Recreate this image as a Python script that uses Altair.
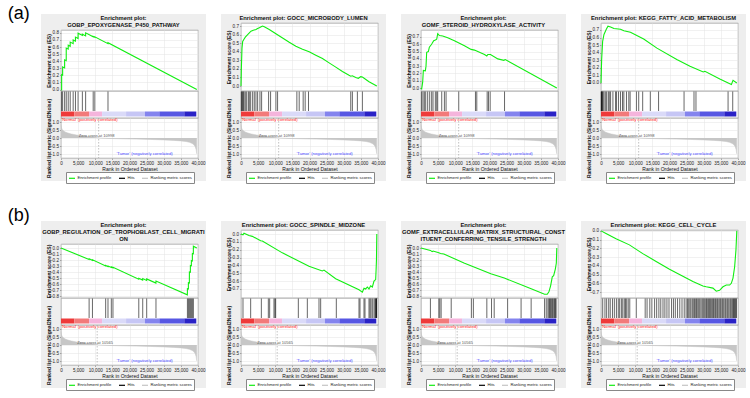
import altair as alt
import pandas as pd

FONT = "Liberation Sans"

# ---------------- texts ----------------
ROW_LABELS = ["(a)", "(b)"]
TITLES = [
    ["Enrichment plot:", "GOBP_EPOXYGENASE_P450_PATHWAY"],
    ["Enrichment plot: GOCC_MICROBODY_LUMEN"],
    ["Enrichment plot:", "GOMF_STEROID_HYDROXYLASE_ACTIVITY"],
    ["Enrichment plot: KEGG_FATTY_ACID_METABOLISM"],
    ["Enrichment plot:", "GOBP_REGULATION_OF_TROPHOBLAST_CELL_MIGRATI", "ON"],
    ["Enrichment plot: GOCC_SPINDLE_MIDZONE"],
    ["Enrichment plot:", "GOMF_EXTRACELLULAR_MATRIX_STRUCTURAL_CONST",
     "ITUENT_CONFERRING_TENSILE_STRENGTH"],
    ["Enrichment plot: KEGG_CELL_CYCLE"],
]
ES_TITLE = "Enrichment score (ES)"
METRIC_TITLE = "Ranked list metric (Signal2Noise)"
X_TITLE = "Rank in Ordered Dataset"
POS_TEXT = "'Normal' (positively correlated)"
NEG_TEXT = "'Tumor' (negatively correlated)"
ZERO_CROSS = [10998, 10565]
LEG_NAMES = ["Enrichment profile", "Hits", "Ranking metric scores"]
LEG_COLORS = ["#11ee11", "#000000", "#c4c4c4"]

X_TICKS = [0, 5000, 10000, 15000, 20000, 25000, 30000, 35000, 40000]
MET_TICKS = [1.0, 0.5, 0.0, -0.5, -1.0]

# ---------------- running enrichment score per panel ----------------
a1_rank = [0, 189, 190, 479, 480, 1059, 1060, 1529, 1530, 2109, 2110, 2689, 2690, 3549, 3550,
           4219, 4220, 4989, 4990, 6239, 6240, 7189, 7190, 9399, 9400, 9879, 9880, 13719, 13720, 39650]
a1_es = [0, -0.005, 0.21, 0.203, 0.32, 0.306, 0.42, 0.408, 0.585, 0.57, 0.625, 0.61, 0.67, 0.648, 0.70,
         0.683, 0.74, 0.72, 0.795, 0.764, 0.78, 0.757, 0.80, 0.745, 0.75, 0.738, 0.744, 0.648, 0.66, 0.0]

a2_rank = [0, 100, 290, 490, 780, 1260, 1940, 2430, 2910, 3590, 4370, 4850, 5340, 6020, 6310, 6800,
           8250, 10190, 12140, 14080, 16020, 17960, 19900, 21840, 23790, 25730, 27670, 29610, 31550,
           32040, 32520, 33500, 34270, 34950, 35440, 37380, 39650]
a2_es = [0, 0.2, 0.44, 0.52, 0.54, 0.57, 0.6, 0.62, 0.64, 0.65, 0.66, 0.67, 0.68, 0.695, 0.7, 0.69,
         0.66, 0.61, 0.56, 0.51, 0.465, 0.43, 0.4, 0.36, 0.32, 0.27, 0.22, 0.17, 0.125,
         0.115, 0.12, 0.1, 0.09, 0.11, 0.105, 0.05, 0.0]

a3_rank = [0, 200, 490, 680, 1270, 1460, 1660, 2150, 2440, 2930, 3220, 3710, 4200, 4590, 4880, 5370,
           6340, 7800, 9760, 12680, 14630, 15610, 18540, 19220, 19510, 20290, 22440, 24200, 24590, 39650]
a3_es = [0, -0.01, 0.08, 0.24, 0.235, 0.30, 0.49, 0.50, 0.56, 0.59, 0.61, 0.65, 0.66, 0.67, 0.745, 0.72,
         0.714, 0.69, 0.65, 0.58, 0.53, 0.52, 0.46, 0.44, 0.46, 0.46, 0.40, 0.38, 0.39, 0.0]

a4_rank = [0, 190, 480, 870, 1160, 1550, 2030, 2800, 3770, 5700, 6670, 8600, 12460, 16330, 22130,
           25990, 29850, 30340, 34690, 38070, 38550, 39650]
a4_es = [0, 0.31, 0.55, 0.64, 0.67, 0.71, 0.75, 0.74, 0.72, 0.71, 0.69, 0.67, 0.58, 0.46, 0.31,
         0.22, 0.146, 0.155, 0.053, -0.02, 0.035, 0.0]

b1_rank = [0, 8200, 8220, 9180, 9200, 13040, 13060, 13720, 13740, 14690, 14710, 15170, 15190, 22690,
           22710, 23840, 23860, 25000, 25020, 27710, 27730, 36890, 36910, 37190, 37200, 37480, 37490,
           37770, 37780, 38060, 38070, 38350, 38360, 38640, 38650, 39650]
b1_es = [0, -0.19, -0.18, -0.205, -0.195, -0.30, -0.29, -0.31, -0.30, -0.325, -0.315, -0.33, -0.32, -0.52,
         -0.505, -0.535, -0.51, -0.54, -0.515, -0.585, -0.55, -0.78, -0.68, -0.685, -0.58, -0.585, -0.40,
         -0.405, -0.29, -0.295, -0.21, -0.215, -0.09, -0.095, 0.03, 0.0]

b2_rank = [0, 580, 880, 1850, 2340, 3310, 5740, 6230, 12070, 19850, 23740, 24230, 27640, 34450, 35430,
           35910, 36400, 36890, 37370, 37860, 38350, 38830, 39320, 39450, 39550, 39650]
b2_es = [0, -0.01, 0.01, -0.01, -0.02, -0.03, -0.085, -0.09, -0.24, -0.41, -0.47, -0.46, -0.57, -0.71, -0.74,
         -0.69, -0.70, -0.675, -0.70, -0.66, -0.675, -0.60, -0.58, -0.45, -0.33, 0.0]

b3_rank = [0, 2750, 3240, 3530, 5200, 5690, 6670, 12550, 20390, 24310, 32160, 36080, 36860, 37350,
           37840, 38330, 38730, 39220, 39510, 39650]
b3_es = [0, -0.04, -0.06, -0.05, -0.08, -0.09, -0.10, -0.25, -0.43, -0.50, -0.68, -0.77, -0.77, -0.73,
         -0.63, -0.48, -0.46, -0.35, -0.25, 0.0]

b4_rank = [0, 1460, 4390, 8290, 12200, 16100, 20000, 23900, 26830, 29760, 30730, 32680, 33660, 34630,
           35610, 36590, 37560, 38050, 38540, 39020, 39400, 39650]
b4_es = [0, -0.03, -0.09, -0.16, -0.26, -0.35, -0.44, -0.52, -0.58, -0.63, -0.64, -0.655, -0.69, -0.68,
         -0.64, -0.62, -0.62, -0.60, -0.54, -0.41, -0.22, 0.0]

# ---------------- gene-set hits (rank positions) ----------------
a1_hits = [190, 480, 1060, 1530, 2110, 2690, 3550, 4220, 4990, 6240, 7190, 9400, 9880, 13720]
a2_hits = [100, 290, 490, 680, 900, 1260, 1650, 2140, 2430, 2820, 3400, 3880, 4370, 4850, 5530, 6020,
           8060, 8640, 10190, 10680, 16310, 16990, 18150, 18740, 19710, 32040, 32520, 33980, 35440]
a3_hits = [200, 590, 980, 1370, 1950, 2540, 3120, 3510, 4190, 4590, 4880, 6050, 6830, 7320, 11020,
           15900, 16290, 19320, 19700, 20200, 24390]
a4_hits = [60, 150, 290, 400, 580, 870, 1260, 1640, 2130, 2420, 2800, 3480, 4250, 4540, 5120, 5700,
           6280, 6670, 7440, 8120, 8500, 10340, 11010, 12170, 14400, 16810, 24250, 27150, 27730,
           37100, 38460]
b1_hits = [8210, 9180, 13040, 13720, 14690, 15170, 22710, 23860, 25020, 27730, 36910, 37200, 37490,
           37780, 38070, 38360, 38650]
b2_hits = [580, 2820, 5940, 7980, 8370, 9630, 9930, 10120, 16740, 19370, 22770, 23260, 27830, 34450,
           34740, 35910, 36200, 37370, 37660, 37960, 38350, 38830, 39130, 39320, 39450, 39550, 39610]
b3_hits = [2750, 5200, 5490, 5880, 8820, 14710, 15290, 19220, 20590, 21370, 25290, 29220, 32160, 36080,
           36570, 37060, 37350, 37550, 37840, 38040, 38330, 38530, 38820, 39020, 39250, 39450]
b4_hits = [500, 1150, 1650, 2250, 2700, 3350, 3900, 4500, 5050, 5450, 5950, 6350, 6800, 7150, 7500,
           7950, 8400, 10300, 12900, 13450, 14250, 14850, 15650, 16250, 16900, 17450, 18100, 18650,
           19250, 19850, 20600, 21150, 21700, 22350, 23000, 23650, 24300, 24850, 25250, 25600, 25950,
           26250, 26650, 26950, 27300, 27650, 27900, 28250, 28550, 28850, 29200, 29550, 29850, 30150,
           30450, 30800, 31050, 31400, 31700, 31950, 32300, 32600, 32850, 33200, 33450, 33800, 34050,
           34400, 34700, 34950, 35300, 35550, 35850, 36200, 36450, 36800, 37050, 37350, 37700, 37950,
           38250, 38500, 38700, 38950, 39150, 39350, 39550]

ES_RANKS = [a1_rank, a2_rank, a3_rank, a4_rank, b1_rank, b2_rank, b3_rank, b4_rank]
ES_SCORES = [a1_es, a2_es, a3_es, a4_es, b1_es, b2_es, b3_es, b4_es]
HITS = [a1_hits, a2_hits, a3_hits, a4_hits, b1_hits, b2_hits, b3_hits, b4_hits]

ES_DOMAINS = [[-0.02, 0.84], [-0.058, 0.735], [-0.041, 0.796], [-0.106, 0.792],
              [-0.833, 0.067], [-0.815, 0.051], [-0.833, 0.067], [-0.768, 0.01]]
T8P = [0.0, 0.1, 0.2, 0.3, 0.4, 0.5, 0.6, 0.7, 0.8]
T7P = [0.0, 0.1, 0.2, 0.3, 0.4, 0.5, 0.6, 0.7]
T8N = [0.0, -0.1, -0.2, -0.3, -0.4, -0.5, -0.6, -0.7, -0.8]
T7N = [0.0, -0.1, -0.2, -0.3, -0.4, -0.5, -0.6, -0.7]
ES_TICKS = [T8P, T7P, T7P, T7P, T8N, T7N, T8N, T7N]

# ---------------- ranked list metric ----------------
MET_RANKS = [0, 100, 300, 700, 1200, 2000, 3000, 4500, 6000, 8000, 10000, 11000, 14000, 18000, 22000,
             26000, 30000, 33000, 35000, 36500, 37500, 38300, 38800, 39200, 39450, 39600, 39650]
MET_SCORES = [0.85, 0.68, 0.55, 0.45, 0.38, 0.31, 0.25, 0.19, 0.14, 0.09, 0.04, 0.0, -0.03, -0.05, -0.07,
              -0.09, -0.12, -0.15, -0.18, -0.22, -0.27, -0.34, -0.42, -0.55, -0.72, -0.95, -1.0]

# ---------------- heat bar under the hits ----------------
BAR_START = [0, 3900, 8200, 12000, 19000, 24500, 28700, 36000]
BAR_END = [3900, 8200, 12000, 19000, 24500, 28700, 36000, 39500]
BAR_COLORS = ["#ee3a3a", "#f27a7a", "#f5b4dc", "#dadaf8", "#c6c6f5", "#8484ee", "#5757e3", "#2a22c6"]

# ---------------- layout / style ----------------
W, HH, MH = 137, 27, 40
PANEL_BG = "#eeeeee"
FRAME = "#9a9a9a"
ROW_LABEL_OFFSET = [-9, -4]


def make_panel(k):
    row = k // 4
    lines = TITLES[k]
    n = len(lines)
    TH = 7 * n + 2
    H = 75 - 7 * n
    one = alt.Data(values=[{}])
    xscale = alt.Scale(domain=[0, 40000], nice=False, zero=False)

    # ---- title strip (also paints the grey panel behind everything below) ----
    bg = alt.Chart(one).mark_rect(color=PANEL_BG).encode(
        x=alt.value(-20), x2=alt.value(W + 8),
        y=alt.value(0), y2=alt.value(TH + H + HH + MH + 23))
    cx = (W - 12) / 2
    title_layers = [
        alt.Chart(alt.Data(values=[{"t": txt}])).mark_text(
            align="center", baseline="middle", fontSize=5.8, fontWeight="bold", font=FONT,
            color="#111111").encode(
            x=alt.value(cx), y=alt.value(TH - 5 - 7 * (n - 1 - j)), text="t:N")
        for j, txt in enumerate(lines)
    ]
    title_chart = alt.layer(bg, *title_layers).properties(
        width=W, height=TH, view=alt.ViewBackground(fill="transparent", stroke="transparent"))

    # ---- running enrichment score ----
    es_df = pd.DataFrame({"rank": ES_RANKS[k], "es": ES_SCORES[k]})
    es_df["i"] = range(len(es_df))
    es_chart = alt.Chart(es_df).mark_line(color=LEG_COLORS[0], strokeWidth=1.1).encode(
        x=alt.X("rank:Q", scale=xscale,
                axis=alt.Axis(values=X_TICKS, labels=False, ticks=False, domain=False,
                              title=None, grid=True)),
        y=alt.Y("es:Q", scale=alt.Scale(domain=ES_DOMAINS[k], nice=False, zero=False),
                axis=alt.Axis(values=ES_TICKS[k], format=".1f", title=ES_TITLE, grid=True,
                              minExtent=10, maxExtent=10, titlePadding=0, labelOverlap=False)),
        order=alt.Order("i:Q")).properties(width=W, height=H)

    # ---- hits + heat bar ----
    hits_df = pd.DataFrame({"rank": HITS[k]})
    bar_df = pd.DataFrame({"start": BAR_START, "end": BAR_END, "col": BAR_COLORS})
    rules = alt.Chart(hits_df).mark_rule(color="#000000", strokeWidth=0.6).encode(
        x=alt.X("rank:Q", scale=xscale, axis=None),
        y=alt.value(0.5), y2=alt.value(HH - 7))
    bar = alt.Chart(bar_df).mark_rect().encode(
        x=alt.X("start:Q", scale=xscale, axis=None), x2="end:Q",
        y=alt.value(HH - 6.5), y2=alt.value(HH - 1.5),
        color=alt.Color("col:N", scale=None))
    hits_chart = alt.layer(rules, bar).properties(width=W, height=HH)

    # ---- ranked list metric ----
    ax_x = alt.Axis(values=X_TICKS, format=",d", title=X_TITLE, grid=True, labelFlush=False,
                    labelOverlap=False, titlePadding=1, titleFontWeight="normal")
    ax_y = alt.Axis(values=MET_TICKS, format=".1f", title=METRIC_TITLE, grid=True,
                    minExtent=10, maxExtent=10, titlePadding=0, labelOverlap=False)
    yscale = alt.Scale(domain=[-1.25, 1.25], nice=False, zero=False)
    met_df = pd.DataFrame({"rank": MET_RANKS, "score": MET_SCORES, "series": LEG_NAMES[2]})
    area = alt.Chart(met_df).mark_area(color="#c6c6c6").encode(
        x=alt.X("rank:Q", scale=xscale, axis=ax_x),
        y=alt.Y("score:Q", scale=yscale, axis=ax_y, stack=None))
    edge = alt.Chart(met_df).mark_line(strokeWidth=0.5).encode(
        x=alt.X("rank:Q", scale=xscale, axis=ax_x),
        y=alt.Y("score:Q", scale=yscale, axis=ax_y),
        color=alt.Color("series:N", scale=alt.Scale(domain=LEG_NAMES, range=LEG_COLORS),
                        legend=alt.Legend(orient="none", legendX=5, legendY=54,
                                          direction="horizontal", title=None,
                                          symbolType="stroke", symbolSize=36,
                                          symbolStrokeWidth=1.2, labelFontSize=4.2,
                                          labelFont=FONT, labelOffset=1.5, columnPadding=4,
                                          padding=2, strokeColor="#888888",
                                          fillColor="white", labelColor="#222222")))
    zc = ZERO_CROSS[row]
    zrule = alt.Chart(one).mark_rule(color="#9a9a9a", strokeWidth=0.6,
                                     strokeDash=[1.5, 1.5]).encode(
        x=alt.XDatum(zc, axis=ax_x))
    t_pos = alt.Chart(alt.Data(values=[{"t": POS_TEXT}])).mark_text(
        align="left", baseline="middle", fontSize=4.2, font=FONT, color="#ff2020").encode(
        x=alt.XDatum(150, axis=ax_x), y=alt.YDatum(1.1, axis=ax_y), text="t:N")
    t_zero = alt.Chart(alt.Data(values=[{"t": "Zero cross at %d" % zc}])).mark_text(
        align="center", baseline="middle", fontSize=4.0, font=FONT, color="#555555").encode(
        x=alt.XDatum(zc - 600, axis=ax_x), y=alt.YDatum(0.1, axis=ax_y), text="t:N")
    t_neg = alt.Chart(alt.Data(values=[{"t": NEG_TEXT}])).mark_text(
        align="right", baseline="middle", fontSize=4.2, font=FONT, color="#4444ff").encode(
        x=alt.XDatum(32600, axis=ax_x), y=alt.YDatum(-1.0, axis=ax_y), text="t:N")
    met_chart = alt.layer(area, edge, zrule, t_pos, t_zero, t_neg).properties(width=W, height=MH)

    return alt.vconcat(title_chart, es_chart, hits_chart, met_chart, spacing=0,
                       bounds="flush").resolve_scale(color="independent")


def make_row(r):
    panels = [make_panel(4 * r + j) for j in range(4)]
    return alt.hconcat(
        *panels, spacing=13,
        title=alt.TitleParams(ROW_LABELS[r], anchor="start", fontSize=18, fontWeight="normal",
                              font=FONT, color="#000000", dx=-33, offset=ROW_LABEL_OFFSET[r])
    ).resolve_scale(color="independent")


chart = alt.vconcat(make_row(0), make_row(1), spacing=22).resolve_scale(
    color="independent"
).properties(
    padding={"left": 7, "top": 4, "right": 2, "bottom": 2},
    background="white",
).configure_view(
    stroke=FRAME, strokeWidth=0.7, fill="white"
).configure_axis(
    labelFontSize=4.6, titleFontSize=5, labelFont=FONT, titleFont=FONT,
    labelColor="#222222", titleColor="#111111", tickSize=1.5, tickWidth=0.5,
    tickColor="#666666", labelPadding=1, gridColor="#e2e2e2", gridWidth=0.5, domain=False,
    labelOverlap=False
)

chart.save("out.html", embed_options={"renderer": "svg", "actions": False})
